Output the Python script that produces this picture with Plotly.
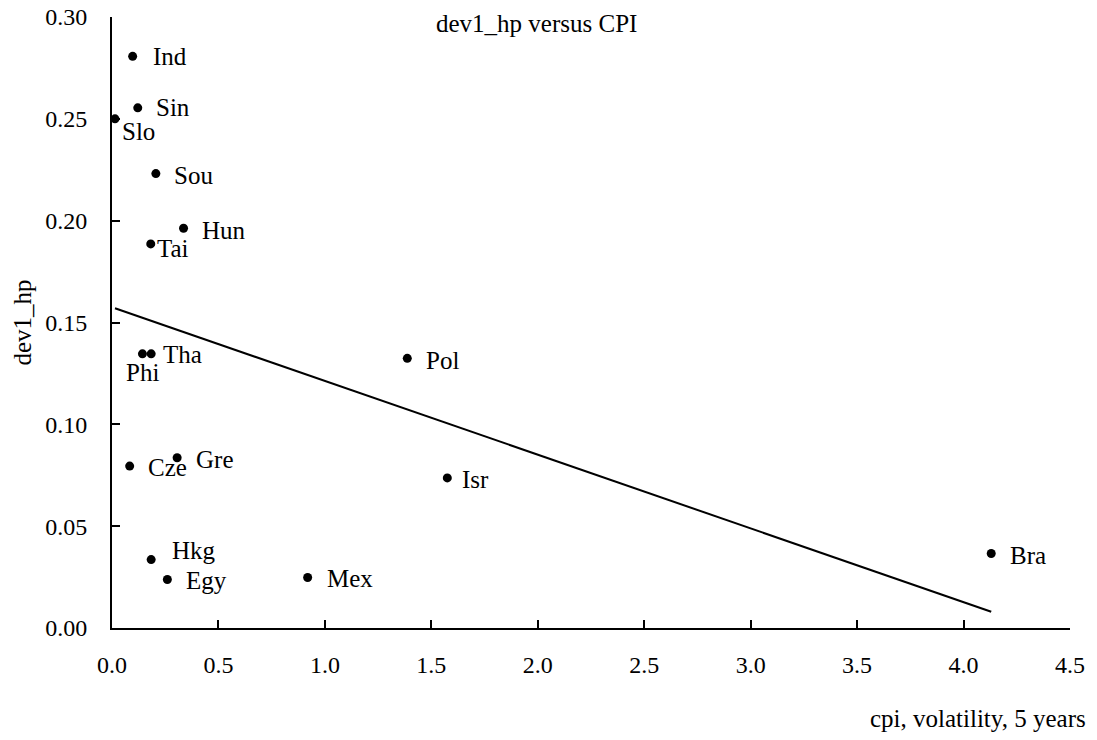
import plotly.graph_objects as go

countries = ["Ind", "Sin", "Slo", "Sou", "Hun", "Tai", "Phi", "Tha", "Cze", "Gre",
             "Hkg", "Egy", "Mex", "Pol", "Isr", "Bra"]
cpi_vol = [0.097, 0.121, 0.014, 0.206, 0.336, 0.182, 0.143, 0.184, 0.083, 0.306,
           0.184, 0.260, 0.919, 1.387, 1.575, 4.130]
dev1_hp = [0.2807, 0.2554, 0.2500, 0.2231, 0.1963, 0.1886, 0.1346, 0.1346, 0.0795, 0.0836,
           0.0336, 0.0238, 0.0248, 0.1324, 0.0737, 0.0366]
trend_x = [0.014, 4.13]
trend_y = [0.157, 0.008]
x_ticks = [0.0, 0.5, 1.0, 1.5, 2.0, 2.5, 3.0, 3.5, 4.0, 4.5]
y_ticks = [0.00, 0.05, 0.10, 0.15, 0.20, 0.25, 0.30]

# label offsets in pixels (dx right, dy down)
label_offsets = {
    "Ind": (18, 0), "Sin": (16, 0), "Slo": (5, 13), "Sou": (16, 2), "Hun": (16, 2),
    "Tai": (4, 5), "Phi": (-18, 19), "Tha": (10, 1), "Cze": (16, 1), "Gre": (17, 2),
    "Hkg": (19, -9), "Egy": (17, 1), "Mex": (17, 1), "Pol": (17, 2), "Isr": (13, 2),
    "Bra": (17, 2),
}

FONT = "Liberation Serif, Times New Roman, serif"
FS = 25

fig = go.Figure()
fig.add_trace(go.Scatter(x=trend_x, y=trend_y, mode="lines",
                         line=dict(color="black", width=2), hoverinfo="skip",
                         showlegend=False))
fig.add_trace(go.Scatter(x=cpi_vol, y=dev1_hp, mode="markers",
                         marker=dict(color="black", size=9), cliponaxis=False,
                         text=countries, showlegend=False))

for c, xv, yv in zip(countries, cpi_vol, dev1_hp):
    dx, dy = label_offsets[c]
    fig.add_annotation(x=xv, y=yv, text=c, showarrow=False, xanchor="left",
                       yanchor="middle", xshift=dx, yshift=-dy,
                       font=dict(family=FONT, size=FS, color="black"))

fig.add_annotation(xref="paper", yref="paper", x=0.4436, y=1, yanchor="middle", yshift=-6,
                   text="dev1_hp versus CPI", showarrow=False,
                   font=dict(family=FONT, size=FS, color="black"))
fig.add_annotation(xref="paper", yref="paper", x=1.0188, y=0, xanchor="right",
                   yanchor="middle", yshift=-90,
                   text="cpi, volatility, 5 years", showarrow=False,
                   font=dict(family=FONT, size=FS, color="black"))
fig.add_annotation(xref="paper", yref="paper", x=0, y=0.5, xanchor="center",
                   yanchor="middle", xshift=-90, textangle=-90,
                   text="dev1_hp", showarrow=False,
                   font=dict(family=FONT, size=FS, color="black"))

fig.update_layout(
    width=1097, height=740,
    margin=dict(l=112, r=27, t=17, b=112),
    paper_bgcolor="white", plot_bgcolor="white",
    font=dict(family=FONT, size=FS, color="black"),
    xaxis=dict(range=[0, 4.5], tickvals=x_ticks, ticktext=[f"{v:.1f}" for v in x_ticks],
               showgrid=False, zeroline=False, showline=True, linecolor="black",
               linewidth=2, ticks="inside", ticklen=8, tickwidth=1.5, tickcolor="black",
               ticklabelstandoff=14, tickfont=dict(family=FONT, size=24), automargin=False,
               ticklabeloverflow="allow"),
    yaxis=dict(range=[0, 0.30], tickvals=y_ticks, ticktext=[f"{v:.2f}" for v in y_ticks],
               showgrid=False, zeroline=False, showline=True, linecolor="black",
               linewidth=2, ticks="inside", ticklen=8, tickwidth=1.5, tickcolor="black",
               ticklabelstandoff=18, tickfont=dict(family=FONT, size=24), automargin=False,
               ticklabeloverflow="allow"),
)

# remove the page's default 8px body margin so the figure fills the window exactly
fig.write_html("out.html", config={"displayModeBar": False},
               post_script="document.body.style.margin='0';")
